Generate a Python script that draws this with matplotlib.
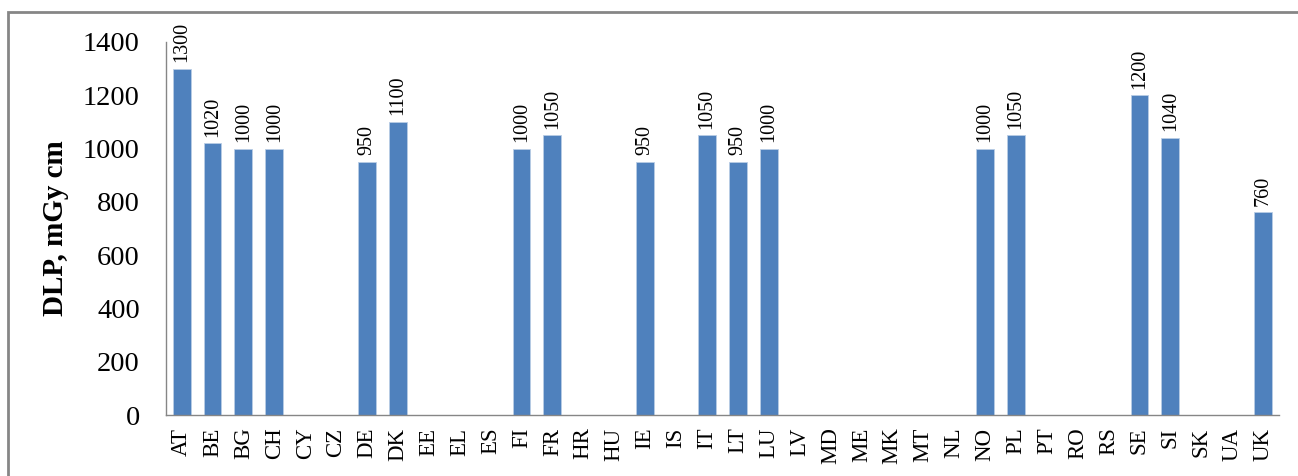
import matplotlib
matplotlib.use("Agg")
import matplotlib.pyplot as plt
from matplotlib.patches import Rectangle

countries = ["AT","BE","BG","CH","CY","CZ","DE","DK","EE","EL","ES","FI","FR","HR","HU",
             "IE","IS","IT","LT","LU","LV","MD","ME","MK","MT","NL","NO","PL","PT","RO",
             "RS","SE","SI","SK","UA","UK"]
dlp = [1300,1020,1000,1000,None,None,950,1100,None,None,None,1000,1050,None,None,
       950,None,1050,950,1000,None,None,None,None,None,None,1000,1050,None,None,
       None,1200,1040,None,None,760]
yticks = [0,200,400,600,800,1000,1200,1400]

plt.rcParams['font.family'] = ['Liberation Serif', 'DejaVu Serif']

fig = plt.figure(figsize=(12.98, 4.76), dpi=100)
ax = fig.add_axes([0.128, 0.128, 0.857, 0.784])

xs = list(range(len(countries)))
vals = [v if v is not None else 0 for v in dlp]
ax.bar(xs, vals, width=0.58, color="#4F81BD", edgecolor="#B9CDE5", linewidth=0.6)
for x, v in zip(xs, dlp):
    if v is not None:
        ax.text(x, v + 25, str(v), rotation=90, ha="center", va="bottom", fontsize=14.5)

ax.set_xlim(-0.5, len(countries) - 0.5)
ax.set_ylim(0, 1400)
ax.set_yticks(yticks)
ax.set_yticklabels([str(t) for t in yticks], fontsize=20.5)
ax.set_xticks(xs)
ax.set_xticklabels(countries, rotation=90, fontsize=16.5)
ax.tick_params(axis="x", length=0, pad=9)
ax.tick_params(axis="y", length=0, pad=19)
for s in ["top", "right"]:
    ax.spines[s].set_visible(False)
for s in ["left", "bottom"]:
    ax.spines[s].set_color("#868686")
    ax.spines[s].set_linewidth(1.0)
ax.set_ylabel("DLP, mGy cm", fontsize=21, fontweight="bold", labelpad=10)

fig.patches.append(Rectangle((8/1298, -0.05), 1.1, 1 - 12/476 + 0.05, transform=fig.transFigure,
                             fill=False, edgecolor="#868686", linewidth=2))

fig.savefig("out.png", dpi=100)
